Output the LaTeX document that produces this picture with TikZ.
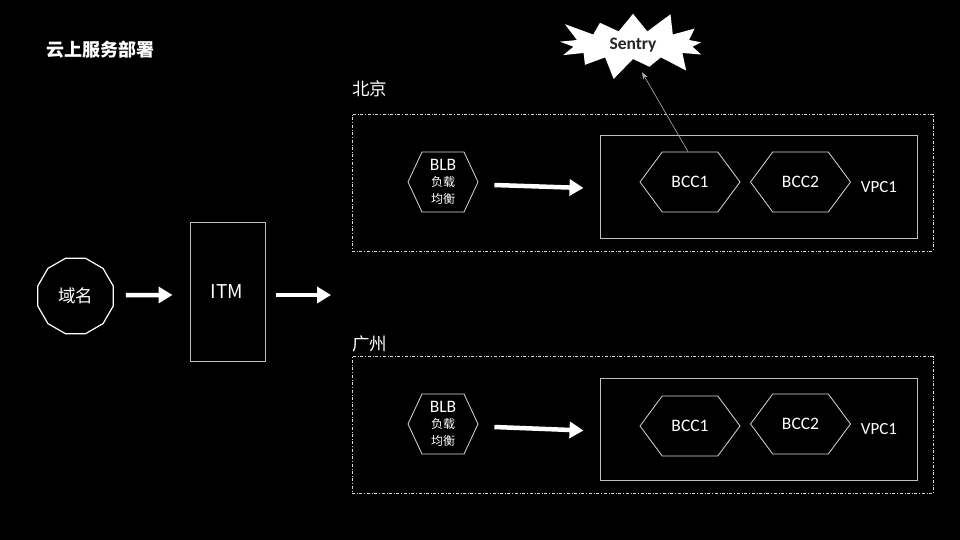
\documentclass[tikz,border=0pt]{standalone}
\usepackage{fontspec}
\setmainfont{Carlito}
\newfontfamily\cjk{Noto Sans CJK SC}
\usetikzlibrary{shapes.geometric,shapes.symbols,arrows.meta}

\tikzset{
  txt/.style={text=white,font=\fontsize{17}{20}\selectfont},
  cjktxt/.style={text=white,font=\cjk\fontsize{17.5}{20}\selectfont},
  region/.style={draw=white!85!black,dash dot,line width=0.8pt,minimum width=581pt,minimum height=137pt},
  vpcbox/.style={draw=white!75!black,line width=1pt,minimum width=317pt,minimum height=102pt},
  bcc/.style={signal,signal from=nowhere,signal to=west and east,draw=white!85!black,line width=0.8pt,
    minimum width=100pt,minimum height=60pt,signal pointer angle=107,text=white,
    font=\fontsize{17.5}{20}\selectfont},
  blb/.style={signal,signal from=nowhere,signal to=west and east,draw=white!85!black,line width=0.8pt,
    minimum width=70pt,minimum height=60pt,signal pointer angle=130,text=white,
    align=center,font=\fontsize{17.5}{17}\selectfont},
  bigarrow/.style={draw=white,line width=4.5pt,-{Triangle[length=14pt,width=16pt]}},
}

\begin{document}
\begin{tikzpicture}[x=1pt,y=-1pt,inner sep=0pt]
\fill [black] (0,0) rectangle (960,540);
\useasboundingbox (0,0) rectangle (960,540);
\node [cjktxt,font=\cjk\bfseries\fontsize{18}{20}\selectfont,anchor=west] (title) at (46,50) {云上服务部署};
\node [starburst,fill=white,minimum width=168pt,minimum height=76pt,starburst points=13,
  starburst point height=24pt,font=\bfseries\fontsize{17.5}{19}\selectfont,text=black!85] (sentry) at (633,45) {Sentry};
\node [regular polygon,regular polygon sides=12,draw=white,line width=1.2pt,minimum size=78pt,
  cjktxt] (domain) at (75.5,296) {域名};
\node [draw=white!75!black,line width=1pt,minimum width=75pt,minimum height=139pt] (itm) at (227.5,291.5) {};
\node [txt,font=\cjk\fontsize{19}{20}\selectfont] (itmtext) at (227,292) {ITM};
\coordinate (itmout) at (331,295);
\draw [bigarrow] ([xshift=12pt,yshift=1pt]domain.east) -- ([xshift=-17pt,yshift=-3.5pt]itm.west);
\draw [bigarrow] ([xshift=10pt,yshift=-3.5pt]itm.east) -- (itmout);
\node [cjktxt,anchor=west] (bjlabel) at (352,89) {北京};
\node [region] (bj) at (642.5,182.5) {};
\node [vpcbox] (bjvpc) at (758.5,187) {};
\node [blb] (bjblb) at (443,182) {BLB\\[-1pt]{\cjk\fontsize{12}{15}\selectfont 负载}\\{\cjk\fontsize{12}{15}\selectfont 均衡}};
\node [bcc] (bjbcca) at (690,182) {BCC1};
\node [bcc] (bjbccb) at (800.5,182) {BCC2};
\node [txt] (bjvpctext) at (879,187) {VPC1};
\draw [bigarrow] ([xshift=16pt,yshift=-3pt]bjblb.east) -- ([xshift=-16pt,yshift=-1pt]bjvpc.west);
\draw [white!70!black,line width=0.6pt,-{Stealth[length=7pt,width=5pt]}] ([xshift=-2pt]bjbcca.north) -- ([xshift=9pt,yshift=-13pt]sentry.south);
\node [cjktxt,anchor=west] (gzlabel) at (352,344) {广州};
\node [region] (gz) at (642.5,425) {};
\node [vpcbox] (gzvpc) at (758.5,429.5) {};
\node [blb] (gzblb) at (443,424) {BLB\\[-1pt]{\cjk\fontsize{12}{15}\selectfont 负载}\\{\cjk\fontsize{12}{15}\selectfont 均衡}};
\node [bcc] (gzbcca) at (690,426) {BCC1};
\node [bcc] (gzbccb) at (800.5,424) {BCC2};
\node [txt] (gzvpctext) at (879,429) {VPC1};
\draw [bigarrow] ([xshift=16pt,yshift=-3pt]gzblb.east) -- ([xshift=-16pt,yshift=-1pt]gzvpc.west);
\end{tikzpicture}
\end{document}
